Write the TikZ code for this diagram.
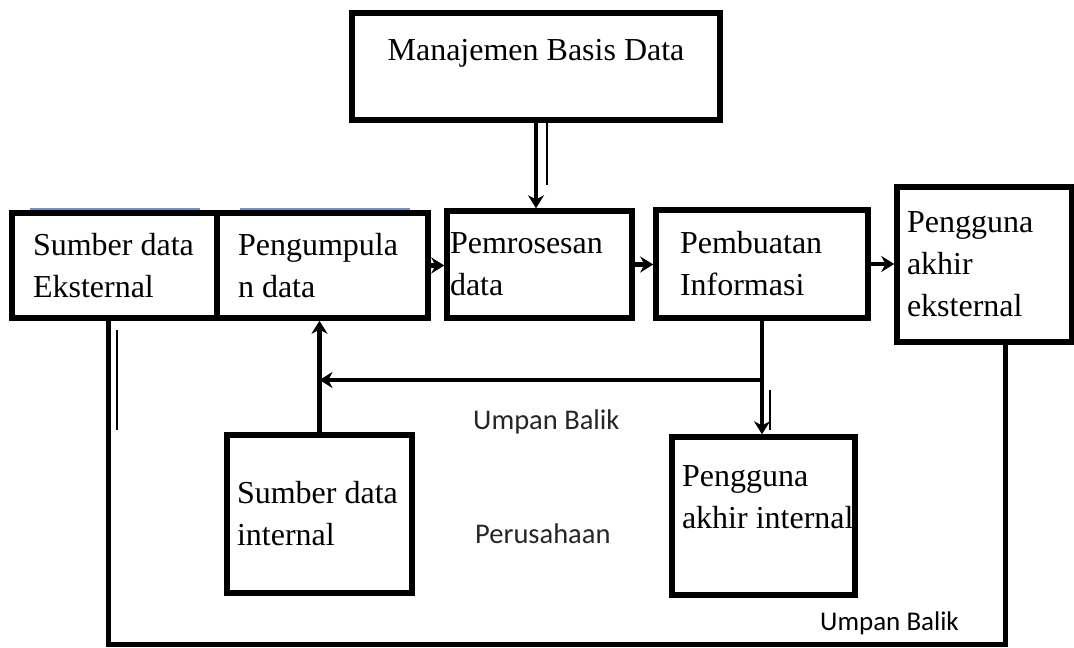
\documentclass[tikz,border=0pt]{standalone}
\usepackage{fontspec}
\setmainfont{Liberation Serif}
\newfontfamily\labelfont{Carlito}
\usetikzlibrary{arrows.meta}

\definecolor{markblue}{RGB}{110,145,205}

\begin{document}
\begin{tikzpicture}[x=1pt, y=-1pt,
    box/.style={draw=black, line width=5.5pt, fill=white, align=flush left, inner ysep=0pt,
        font=\fontsize{32}{42}\selectfont},
    flow/.style={draw=black, line width=4.5pt, -{Stealth[length=13pt, width=16pt]}},
    loopline/.style={draw=black, line width=5pt},
    ghost/.style={draw=black, line width=1.5pt},
    note/.style={anchor=base west, inner sep=0pt, text=black!85}]
    \useasboundingbox (0,0) rectangle (1074,648);

    % faint blue marks above the first row
    \draw[markblue, line width=2pt] (30,208.5) -- (200,208.5);
    \draw[markblue, line width=2pt] (240,208.5) -- (410,208.5);

    % top box
    \node[box, align=center, minimum width=368pt, minimum height=107pt,
        text height=22pt, text depth=34pt] (mbd) at (536,66.5) {Manajemen Basis Data};

    % first row
    \node[box, minimum width=205pt, minimum height=105pt, inner xsep=21pt, text width=163pt]
        (sde) at (114.5,265.5) {\mbox{Sumber data}\\Eksternal};
    \node[box, minimum width=211pt, minimum height=105pt, inner xsep=21pt, text width=169pt]
        (pd) at (322.5,265.5) {Pengumpula\\\mbox{n data}};
    \node[box, minimum width=185pt, minimum height=107pt, inner xsep=3pt, text width=179pt]
        (pem) at (539.5,264.5) {Pemrosesan\\data};
    \node[box, minimum width=212pt, minimum height=108pt, inner xsep=24pt, text width=164pt]
        (pemb) at (762,264) {Pembuatan\\Informasi};
    \node[box, minimum width=175pt, minimum height=155pt, inner xsep=10pt, text width=155pt]
        (pee) at (984.5,264.5) {Pengguna\\akhir\\eksternal};

    % second row
    \node[box, minimum width=185pt, minimum height=158pt, inner xsep=10pt, text width=165pt]
        (sdi) at (319.5,514) {\mbox{Sumber data}\\internal};
    \node[box, minimum width=183pt, minimum height=158pt, inner xsep=10pt, text width=163pt,
        text depth=80pt] (pai) at (763.5,516) {Pengguna\\\mbox{akhir internal}};

    % arrows between the boxes
    \draw[flow] (mbd.south) -- (mbd.south |- pem.north);
    \draw[ghost] (547,122) -- (547,185);
    \draw[flow] (pd.east) -- (pd.east -| pem.west);
    \draw[flow] (pem.east) -- (pem.east -| pemb.west);
    \draw[flow] (pemb.east) -- (pemb.east -| pee.west);

    % internal feedback
    \coordinate (split) at (762,380);
    \draw[flow] (pemb.south) -- (pemb.south |- pai.north);
    \draw[ghost] (770,390) -- (770,430);
    \draw[flow] (split) -- (split -| sdi.north);
    \draw[flow] (sdi.north) -- (sdi.north |- pd.south);

    % outer feedback loop
    \coordinate (lb) at (108,644);
    \coordinate (rb) at (1005,644);
    \draw[loopline] (lb |- sde.south) -- (lb) -- (rb) -- (rb |- pee.south);
    \draw[ghost] (117,330) -- (117,430);

    % labels
    \node[note, font=\labelfont\fontsize{28.5}{34}\selectfont] (ub1) at (473,429) {Umpan Balik};
    \node[note, font=\labelfont\fontsize{28.5}{34}\selectfont] (per) at (475,543) {Perusahaan};
    \node[note, font=\labelfont\fontsize{27}{32}\selectfont, text=black] (ub2) at (820,630) {Umpan Balik};

\end{tikzpicture}
\end{document}
